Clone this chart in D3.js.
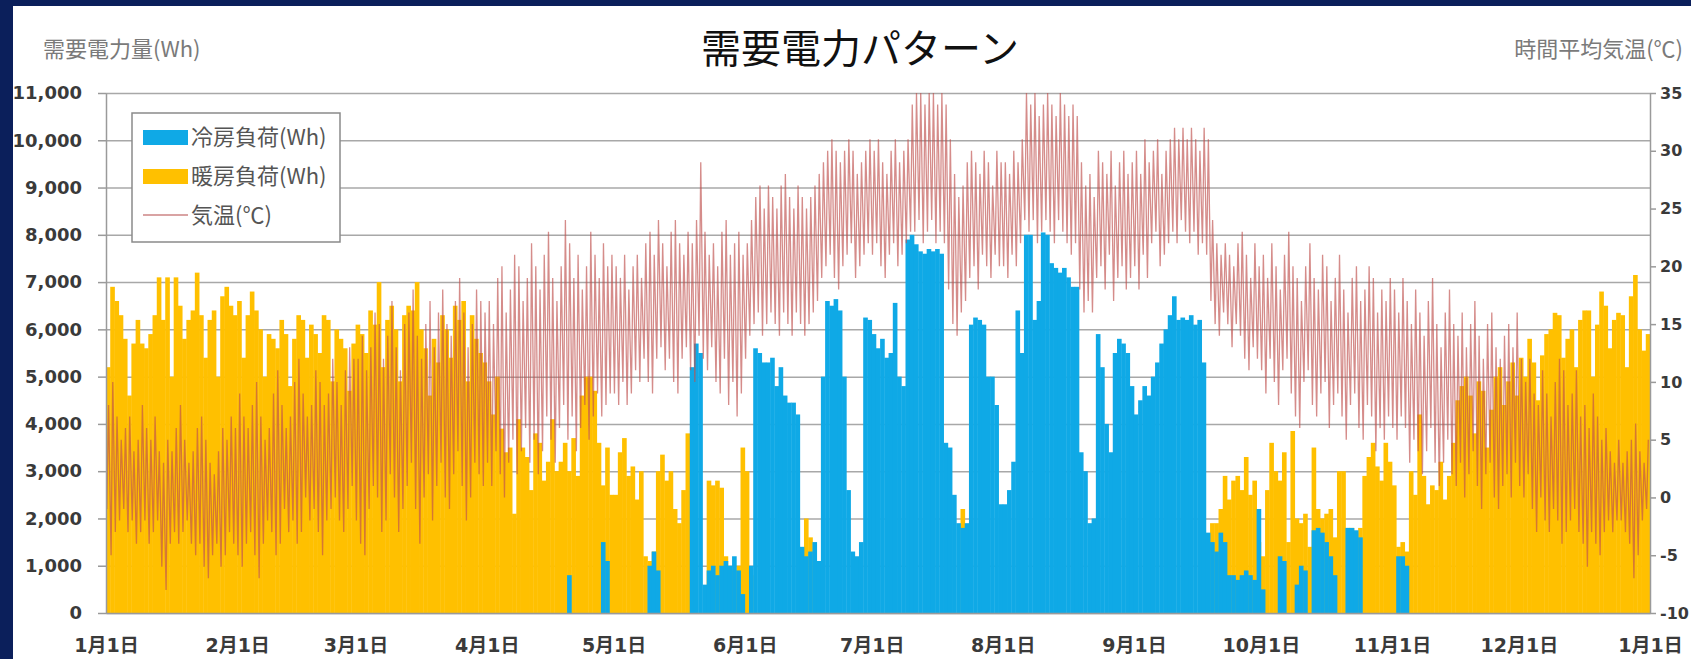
<!DOCTYPE html>
<html>
<head>
<meta charset="utf-8">
<script src="https://cdn.jsdelivr.net/npm/d3@7"></script>
<style>
  body { margin: 0; background: #0b1f5b; overflow: hidden; }
  svg { display: block; }
</style>
</head>
<body>
<script>
'use strict'

var w = 1691;
var h = 659;

// x axis labels and the day of year each one stands for
var monthLabels = ["1月1日", "2月1日", "3月1日", "4月1日", "5月1日", "6月1日",
  "7月1日", "8月1日", "9月1日", "10月1日", "11月1日", "12月1日", "1月1日"];
var monthStart = [0, 31, 59, 90, 120, 151, 181, 212, 243, 273, 304, 334, 365];

var loadTicks = [0, 1000, 2000, 3000, 4000, 5000, 6000, 7000, 8000, 9000, 10000, 11000];
var tempTicks = [-10, -5, 0, 5, 10, 15, 20, 25, 30, 35];

// daily heating load peak (Wh), one row per month
var heating = [
  5200, 6900, 6600, 6300, 5800, 4600, 5700, 6200, 5700, 5600, 5900, 6300, 7100, 6200, 7100, 5000, 7100, 6500, 5800, 6200, 6400, 7200, 6300, 5400, 6200, 6400, 5000, 6700, 6900, 6500, 6300,
  6600, 5400, 6300, 6800, 6400, 6000, 5000, 5900, 5800, 5600, 6200, 5900, 4800, 5800, 6300, 6200, 5400, 6100, 5900, 5500, 6300, 6200, 4900, 6000, 5800, 5600, 4700, 5700,
  6100, 5900, 5500, 6400, 6100, 7000, 5200, 6200, 6500, 6000, 4900, 6300, 6500, 6400, 7000, 6000, 5600, 4600, 5800, 5300, 6300, 6000, 5400, 6500, 6200, 6600, 4900, 6300, 5800, 5500, 5300,
  4900, 4200, 5000, 3900, 3400, 3500, 2100, 4100, 3500, 3300, 2600, 3800, 3600, 2800, 3200, 4100, 3000, 3200, 3600, 3000, 3700, 2900, 4600, 5000, 5000, 4700, 3600, 2700, 3500, 2500,
  2500, 3400, 3700, 2900, 3100, 2400, 3000, 1200, 1100, 1300, 3000, 3350, 2800, 3000, 2200, 1900, 2600, 3800, 0, 0, 0, 0, 2800, 2700, 2800, 2650, 1200, 600, 900, 1000, 3500,
  3000, 800, 0, 0, 0, 0, 0, 0, 0, 0, 0, 0, 0, 0, 2000, 1600, 0, 0, 0, 0, 0, 0, 0, 0, 0, 0, 0, 0, 0, 0,
  0, 0, 0, 0, 0, 0, 0, 0, 0, 0, 0, 0, 0, 0, 0, 0, 0, 0, 0, 0, 0, 2200, 0, 0, 0, 0, 0, 0, 0, 0, 0,
  0, 0, 0, 0, 0, 0, 0, 0, 0, 0, 0, 0, 0, 0, 0, 0, 0, 0, 0, 0, 0, 0, 0, 0, 0, 0, 0, 0, 0, 0, 0,
  0, 0, 0, 0, 0, 0, 0, 0, 0, 0, 0, 0, 0, 0, 0, 0, 0, 1200, 1900, 1900, 2200, 2900, 2400, 2800, 2900, 2600, 3300, 2500, 2800, 1500,
  1200, 2600, 3600, 3000, 2800, 3400, 1500, 3850, 2000, 1900, 2100, 1400, 3500, 2200, 2000, 2100, 2200, 1600, 3000, 3000, 1800, 1800, 1700, 1800, 2900, 3300, 3600, 3100, 2800, 3600, 3200,
  2700, 1400, 1500, 1300, 3000, 2500, 4200, 2900, 2300, 2700, 2600, 3200, 2400, 2900, 3600, 4500, 4800, 5000, 4600, 3800, 4900, 4700, 3500, 4300, 5000, 5200, 4400, 4900, 5300, 4600,
  5400, 5000, 5800, 5300, 4500, 5450, 5900, 6000, 6350, 6300, 5400, 5800, 6000, 5200, 6200, 6400, 6400, 5000, 6100, 6800, 6500, 5600, 6200, 6350, 6300, 5200, 6700, 7150, 6000, 5550, 5900
];

// daily cooling load peak (Wh), one row per month
var cooling = [
  0, 0, 0, 0, 0, 0, 0, 0, 0, 0, 0, 0, 0, 0, 0, 0, 0, 0, 0, 0, 0, 0, 0, 0, 0, 0, 0, 0, 0, 0, 0,
  0, 0, 0, 0, 0, 0, 0, 0, 0, 0, 0, 0, 0, 0, 0, 0, 0, 0, 0, 0, 0, 0, 0, 0, 0, 0, 0, 0,
  0, 0, 0, 0, 0, 0, 0, 0, 0, 0, 0, 0, 0, 0, 0, 0, 0, 0, 0, 0, 0, 0, 0, 0, 0, 0, 0, 0, 0, 0, 0,
  0, 0, 0, 0, 0, 0, 0, 0, 0, 0, 0, 0, 0, 0, 0, 0, 0, 0, 0, 800, 0, 0, 0, 0, 0, 0, 0, 1500, 1100, 0,
  0, 0, 0, 0, 0, 0, 0, 0, 1000, 1300, 900, 0, 0, 0, 0, 0, 0, 0, 5200, 5700, 5500, 600, 900, 1000, 800, 1000, 1100, 1000, 1200, 900, 400,
  0, 1000, 5600, 5500, 5300, 5300, 5400, 4800, 5200, 4600, 4450, 4450, 4200, 1400, 1200, 1300, 1500, 1100, 5000, 6600, 6500, 6640, 6400, 5000, 2600, 1300, 1200, 1500, 6250, 6200,
  5900, 5600, 5800, 5400, 5500, 6560, 5000, 4800, 7900, 8000, 7800, 7650, 7600, 7700, 7650, 7700, 7600, 3600, 3500, 2500, 1900, 1800, 1900, 6100, 6250, 6200, 6100, 5000, 5000, 4400, 2300,
  2300, 2600, 3200, 6400, 5500, 8000, 8000, 6200, 6600, 8050, 8000, 7400, 7300, 7200, 7300, 7100, 6900, 6900, 3400, 3000, 1900, 2000, 5900, 5200, 4000, 3400, 5500, 5800, 5700, 5500, 4800,
  4200, 4500, 4800, 4600, 5000, 5300, 5700, 6000, 6300, 6700, 6200, 6250, 6200, 6300, 6100, 6200, 5300, 1700, 1500, 1300, 1700, 1500, 800, 800, 700, 800, 900, 800, 700, 2200,
  500, 0, 0, 0, 1200, 1100, 0, 0, 600, 1000, 900, 0, 1750, 1800, 1700, 1500, 1200, 800, 0, 0, 1800, 1800, 1750, 1600, 0, 0, 0, 0, 0, 0, 0,
  0, 1200, 1200, 1000, 0, 0, 0, 0, 0, 0, 0, 0, 0, 0, 0, 0, 0, 0, 0, 0, 0, 0, 0, 0, 0, 0, 0, 0, 0, 0,
  0, 0, 0, 0, 0, 0, 0, 0, 0, 0, 0, 0, 0, 0, 0, 0, 0, 0, 0, 0, 0, 0, 0, 0, 0, 0, 0, 0, 0, 0, 0
];

// daily low / high of the hourly temperature (C)
var tempLow = [
  -1, -5, -3, -2, -1, -3, -2, -4, -3, -2, -4, -3, -2, -6, -8, -4, -3, -4, -3, -2, -4, -5, -4, -6, -7, -5, -4, -6, -5, -3, -4,
  -5, -6, -4, -3, -5, -7, -4, -2, -3, -5, -4, -1, -3, -2, -4, -3, 0, -2, -1, -3, -5, -2, -1, 0, -2, -3, -1, 1,
  -2, -4, -5, -1, 1, 0, -3, -2, 2, 0, -3, -1, 1, 3, -1, -4, 0, 2, -2, 1, 3, 0, -1, 2, 4, 1, -2, 0, 3, 2, 1,
  3, 1, 4, 2, 0, 3, 5, 2, 4, 6, 3, 5, 2, 4, 7, 5, 3, 6, 8, 5, 7, 4, 6, 8, 5, 7, 9, 7, 8, 9,
  9, 8, 10, 8, 9, 11, 10, 12, 10, 9, 12, 13, 11, 12, 10, 9, 12, 13, 11, 10, 14, 12, 11, 13, 10, 9, 12, 8, 10, 7, 9,
  12, 14, 15, 16, 14, 15, 16, 15, 14, 16, 15, 14, 16, 15, 14, 15, 16, 17, 19, 20, 21, 19, 18, 20, 21, 22, 19, 20, 21, 22,
  21, 22, 20, 19, 21, 22, 20, 21, 22, 23, 23, 24, 22, 23, 24, 22, 23, 22, 18, 15, 14, 16, 17, 19, 20, 18, 21, 20, 19, 21, 20,
  20, 19, 21, 20, 22, 24, 23, 24, 22, 23, 24, 23, 22, 24, 23, 22, 21, 22, 18, 16, 17, 16, 19, 20, 18, 21, 17, 19, 20, 18, 19,
  20, 18, 21, 19, 22, 23, 20, 21, 22, 23, 22, 24, 23, 22, 23, 21, 22, 21, 17, 15, 14, 16, 15, 13, 15, 14, 12, 11, 13, 12,
  11, 9, 12, 10, 8, 11, 12, 9, 7, 6, 10, 11, 8, 7, 9, 10, 6, 8, 9, 7, 5, 8, 9, 6, 5, 8, 7, 4, 6, 5, 7,
  6, 5, 7, 6, 3, 5, 4, 2, 4, 6, 3, 1, 3, 5, 2, 1, 3, 0, 2, 4, 1, -1, 2, 3, 0, -1, 1, 2, 0, 3,
  1, 0, 2, -1, -3, 0, -2, -3, -1, -2, -4, -3, -2, -1, -3, -4, -6, -3, -4, -5, -3, -2, -3, -2, -2, -3, -4, -7, -5, -2, -1
];

var tempHigh = [
  8, 10, 7, 5, 6, 7, 4, 5, 8, 6, 5, 7, 4, 3, 5, 4, 6, 8, 5, 3, 4, 6, 7, 5, 3, 2, 4, 6, 5, 7, 6,
  9, 7, 6, 8, 10, 7, 5, 6, 9, 11, 8, 6, 7, 10, 12, 9, 7, 8, 11, 10, 8, 9, 12, 10, 8, 11, 13, 12,
  12, 14, 11, 13, 16, 15, 12, 14, 17, 13, 11, 15, 16, 18, 14, 12, 15, 17, 13, 16, 18, 15, 14, 17, 19, 16, 13, 15, 18, 17, 16,
  17, 15, 19, 20, 16, 18, 21, 20, 17, 19, 22, 20, 18, 21, 23, 19, 17, 20, 24, 22, 19, 21, 18, 20, 23, 21, 19, 22, 20, 21,
  20, 19, 21, 18, 20, 21, 19, 22, 23, 21, 24, 22, 20, 23, 24, 22, 21, 23, 22, 24, 29, 23, 21, 22, 20, 23, 24, 21, 22, 23, 21,
  22, 24, 26, 27, 25, 27, 26, 25, 27, 28, 26, 25, 27, 26, 25, 26, 27, 28, 29, 30, 31, 30, 29, 30, 31, 30, 28, 29, 30, 31,
  30, 31, 29, 28, 30, 31, 29, 30, 31, 34, 35, 35, 34, 35, 35, 34, 35, 34, 31, 28, 26, 27, 29, 30, 29, 28, 30, 29, 27, 30, 29,
  29, 28, 30, 29, 31, 35, 34, 35, 33, 34, 35, 34, 33, 35, 34, 33, 34, 33, 29, 27, 28, 26, 30, 29, 28, 30, 27, 29, 30, 28, 29,
  30, 28, 31, 29, 30, 31, 28, 30, 31, 32, 31, 32, 31, 32, 31, 30, 32, 31, 24, 22, 21, 22, 21, 20, 22, 23, 21, 19, 22, 20,
  21, 19, 22, 20, 18, 21, 23, 20, 19, 17, 20, 22, 19, 18, 21, 20, 17, 19, 21, 18, 16, 19, 20, 17, 18, 20, 19, 16, 18, 17, 19,
  18, 16, 19, 17, 15, 18, 16, 14, 17, 19, 15, 13, 16, 18, 15, 14, 16, 13, 15, 17, 14, 12, 15, 16, 13, 12, 14, 15, 13, 16,
  12, 10, 12, 9, 8, 11, 9, 7, 10, 12, 11, 8, 9, 11, 7, 8, 6, 9, 7, 5, 6, 4, 3, 5, 3, 4, 5, 6.4, 4, 3, 5
];

var plotLeft = 106, plotRight = 1650, plotTop = 93, plotBottom = 613;

var x = d3.scaleLinear().domain([0, 365]).range([plotLeft, plotRight]);
var y = d3.scaleLinear().domain([0, 11000]).range([plotBottom, plotTop]);
var t = d3.scaleLinear().domain([-10, 35]).range([plotBottom, plotTop]);

var numFont = "'DejaVu Sans', 'Noto Sans CJK JP', sans-serif";
var jpFont = "'Noto Sans CJK JP', sans-serif";

//Create SVG element
var svg = d3.select("body")
  .append("svg")
  .attr("width", w)
  .attr("height", h);

svg.append("rect")
  .attr("width", w).attr("height", h)
  .attr("fill", "#0b1f5b");

svg.append("rect")
  .attr("x", 13).attr("y", 6)
  .attr("width", w - 13).attr("height", h - 6)
  .attr("fill", "#ffffff");

//Grid lines
svg.append("g")
  .attr("class", "grid")
  .attr("transform", "translate(" + plotLeft + ",0)")
  .call(d3.axisLeft(y).tickValues(loadTicks).tickSize(-(plotRight - plotLeft)).tickFormat(""))
  .call(function(g) { g.select(".domain").remove(); })
  .selectAll("line")
  .attr("stroke", "#a8a8a8")
  .attr("stroke-width", 1.5);

//Bars: heating behind, cooling in front
var days = d3.range(heating.length);

svg.append("g").selectAll("rect")
  .data(days)
  .enter()
  .append("rect")
  .attr("x", function(d) { return x(d); })
  .attr("width", function(d) { return x(d + 1) - x(d) + 0.4; })
  .attr("y", function(d) { return y(heating[d]); })
  .attr("height", function(d) { return y(0) - y(heating[d]); })
  .attr("fill", "#ffc000");

svg.append("g").selectAll("rect")
  .data(days)
  .enter()
  .append("rect")
  .attr("x", function(d) { return x(d); })
  .attr("width", function(d) { return x(d + 1) - x(d) + 0.4; })
  .attr("y", function(d) { return y(cooling[d]); })
  .attr("height", function(d) { return y(0) - y(cooling[d]); })
  .attr("fill", "#0fa9e6");

//Temperature: low in the early morning, high in the afternoon of each day
var tempPoints = [];
days.forEach(function(d) {
  tempPoints.push([d + 0.2, tempLow[d]]);
  tempPoints.push([d + 0.6, tempHigh[d]]);
});

var tempLine = d3.line()
  .x(function(p) { return x(p[0]); })
  .y(function(p) { return t(Math.min(35, p[1])); });

svg.append("path")
  .datum(tempPoints)
  .attr("d", tempLine)
  .attr("fill", "none")
  .attr("stroke", "#c0504d")
  .attr("stroke-opacity", 0.66)
  .attr("stroke-width", 1.3);

//Axes
var leftAxis = svg.append("g")
  .attr("transform", "translate(" + plotLeft + ",0)")
  .call(d3.axisLeft(y).tickValues(loadTicks).tickFormat(d3.format(",")).tickSize(8).tickPadding(16).tickSizeOuter(0));

// plain hyphen for negatives, as in the original
var rightAxis = svg.append("g")
  .attr("transform", "translate(" + plotRight + ",0)")
  .call(d3.axisRight(t).tickValues(tempTicks)
    .tickFormat(function(d) { return String(d); })
    .tickSize(6).tickPadding(4).tickSizeOuter(0));

var bottomAxis = svg.append("g")
  .attr("transform", "translate(0," + plotBottom + ")")
  .call(d3.axisBottom(x).tickValues(monthStart)
    .tickFormat(function(d, i) { return monthLabels[i]; })
    .tickSize(0).tickPadding(26));

[leftAxis, rightAxis].forEach(function(g) {
  g.select(".domain").attr("stroke", "#9a9a9a").attr("stroke-width", 1.5);
  g.selectAll(".tick line").attr("stroke", "#9a9a9a").attr("stroke-width", 1.5);
  g.selectAll("text")
    .style("font-family", numFont)
    .style("font-weight", "bold")
    .attr("fill", "#3a3a3a");
});
leftAxis.selectAll("text").style("font-size", "18px");
rightAxis.selectAll("text").style("font-size", "16px");

bottomAxis.select(".domain").attr("stroke", "#9a9a9a").attr("stroke-width", 1.5);
bottomAxis.selectAll("text")
  .style("font-family", numFont)
  .style("font-weight", "bold")
  .style("font-size", "19px")
  .attr("fill", "#3a3a3a");

//Titles
svg.append("text")
  .attr("x", 860).attr("y", 63)
  .attr("text-anchor", "middle")
  .style("font-family", jpFont)
  .style("font-size", "40px")
  .attr("fill", "#111")
  .text("需要電力パターン");

svg.append("text")
  .attr("x", 43).attr("y", 57)
  .style("font-family", jpFont)
  .style("font-size", "22px")
  .attr("fill", "#7a7a7a")
  .text("需要電力量(Wh)");

svg.append("text")
  .attr("x", 1683).attr("y", 57)
  .attr("text-anchor", "end")
  .style("font-family", jpFont)
  .style("font-size", "22px")
  .attr("fill", "#7a7a7a")
  .text("時間平均気温(℃)");

//Legend
var legendItems = [
  { label: "冷房負荷(Wh)", color: "#0fa9e6", type: "bar" },
  { label: "暖房負荷(Wh)", color: "#ffc000", type: "bar" },
  { label: "気温(℃)", color: "#d9a3a3", type: "line" }
];

var legend = svg.append("g").attr("transform", "translate(132,113)");

legend.append("rect")
  .attr("width", 208).attr("height", 129)
  .attr("fill", "#ffffff")
  .attr("stroke", "#8a8a8a")
  .attr("stroke-width", 1.5);

var items = legend.selectAll("g.item")
  .data(legendItems)
  .enter()
  .append("g")
  .attr("class", "item")
  .attr("transform", function(d, i) { return "translate(0," + (24 + i * 39) + ")"; });

items.filter(function(d) { return d.type === "bar"; })
  .append("rect")
  .attr("x", 11).attr("y", -7)
  .attr("width", 45).attr("height", 15)
  .attr("fill", function(d) { return d.color; });

items.filter(function(d) { return d.type === "line"; })
  .append("line")
  .attr("x1", 11).attr("x2", 56)
  .attr("stroke", function(d) { return d.color; })
  .attr("stroke-width", 2);

items.append("text")
  .attr("x", 59).attr("dy", "0.35em")
  .style("font-family", jpFont)
  .style("font-size", "22px")
  .attr("fill", "#555")
  .text(function(d) { return d.label; });
</script>
</body>
</html>
